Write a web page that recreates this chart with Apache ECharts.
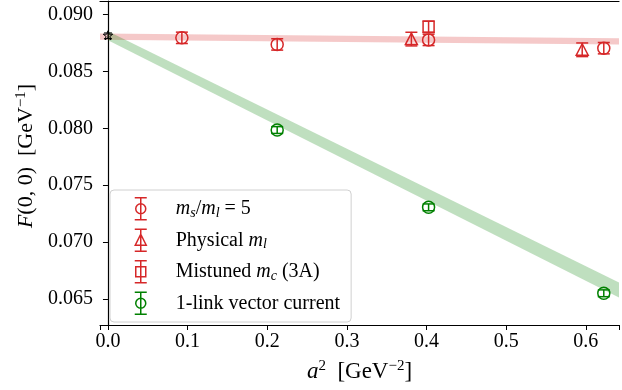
<!DOCTYPE html>
<html>
<head>
<meta charset="utf-8">
<script src="https://cdn.jsdelivr.net/npm/echarts@6/dist/echarts.min.js"></script>
<style>
    html, body { margin: 0; padding: 0; background: #fff; }
    #chart { width: 622px; height: 390px; }
</style>
</head>
<body>
<div id="chart"></div>
<script>
// values: a^2 [GeV^-2], F(0,0) [GeV^-1], error
const ratio5A2 = [0.0928, 0.2125, 0.4026, 0.6226];
const ratio5F = [0.08796, 0.08738, 0.08778, 0.08705];
const ratio5Err = [0.0005, 0.0005, 0.0005, 0.0005];

const physA2 = [0.381, 0.5955];
const physF = [0.08785, 0.08691];
const physErr = [0.0006, 0.0006];

const mistunedA2 = [0.4026];
const mistunedF = [0.08893];
const mistunedErr = [0.0005];

const linkA2 = [0.2125, 0.4026, 0.6226];
const linkF = [0.07985, 0.07305, 0.06549];
const linkErr = [0.0003, 0.0003, 0.0003];

// continuum value
const contA2 = [0];
const contF = [0.08814];
const contErr = [0.00025];

// fit bands: centre and half width at the ends
const redFitA2 = [-0.01, 0.65];
const redFitMid = [0.08807, 0.08764];
const redFitHalf = [0.00028, 0.00028];
const greenFitA2 = [0, 0.65];
const greenFitMid = [0.08814, 0.06549];
const greenFitHalf = [0.0004, 0.00066];

const xTicks = [0, 0.1, 0.2, 0.3, 0.4, 0.5, 0.6];
const yTicks = [0.065, 0.070, 0.075, 0.080, 0.085, 0.090];

const RED = '#d62728';
const GREEN = '#008000';
const FONT = 'Liberation Serif';
const CAP = 6;

const zip3 = (a, b, c) => a.map((v, i) => [v, b[i], c[i]]);

const isTick = (list, v) => list.some(t => Math.abs(t - v) < 1e-9);

// marker shapes drawn around a pixel point
const marker = (kind, p, style) => {
    const [cx, cy] = p;
    if (kind === 'circle') {
        return { type: 'circle', shape: { cx, cy, r: 6 }, style };
    }
    if (kind === 'triangle') {
        return { type: 'polygon', shape: { points: [[cx, cy - 6], [cx + 6, cy + 5.5], [cx - 6, cy + 5.5]] }, style };
    }
    if (kind === 'square') {
        return { type: 'rect', shape: { x: cx - 5.5, y: cy - 5.5, width: 11, height: 11 }, style };
    }
    // star
    let pts = [];
    for (let k = 0; k < 10; k++) {
        let r = k % 2 ? 2 : 5;
        let ang = -Math.PI / 2 + k * Math.PI / 5;
        pts.push([cx + r * Math.cos(ang), cy + r * Math.sin(ang)]);
    }
    return { type: 'polygon', shape: { points: pts }, style };
};

const errorBar = (kind, color, cap, width) => (params, api) => {
    let x = api.value(0), y = api.value(1), e = api.value(2);
    let c = api.coord([x, y]);
    let hi = api.coord([x, y + e]);
    let lo = api.coord([x, y - e]);
    let line = { stroke: color, lineWidth: width, fill: null };
    return {
        type: 'group',
        children: [
            { type: 'line', shape: { x1: c[0], y1: hi[1], x2: c[0], y2: lo[1] }, style: line },
            { type: 'line', shape: { x1: c[0] - cap, y1: hi[1], x2: c[0] + cap, y2: hi[1] }, style: line },
            { type: 'line', shape: { x1: c[0] - cap, y1: lo[1], x2: c[0] + cap, y2: lo[1] }, style: line },
            marker(kind, c, { stroke: color, lineWidth: width, fill: 'none' })
        ]
    };
};

// a filled band between two straight edges
const band = (fill, xs, mid, half) => (params, api) => {
    if (params.dataIndex !== 0) return null;
    let top = xs.map((x, i) => api.coord([x, mid[i] + half[i]]));
    let bot = xs.map((x, i) => api.coord([x, mid[i] - half[i]])).reverse();
    return { type: 'polygon', shape: { points: top.concat(bot) }, style: { fill } };
};

const errSeries = (name, kind, color, a2, f, err) => ({
    name,
    type: 'custom',
    renderItem: errorBar(kind, color, CAP, 1.5),
    itemStyle: { color },
    encode: { x: 0, y: 1 },
    data: zip3(a2, f, err),
    z: 5
});

const bandSeries = (name, fill, xs, mid, half) => ({
    name,
    type: 'custom',
    renderItem: band(fill, xs, mid, half),
    encode: { x: 0, y: 1 },
    data: xs.map((x, i) => [x, mid[i]]),
    silent: true,
    clip: true,
    z: 2
});

const ICONS = {
    circle: 'path://M0 0L12 0M6 0L6 22M0 22L12 22M1 11A5 5 0 1 0 11 11A5 5 0 1 0 1 11Z',
    triangle: 'path://M0 0L12 0M6 0L6 22M0 22L12 22M6 5L11.5 16L0.5 16Z',
    square: 'path://M0 0L12 0M6 0L6 22M0 22L12 22M1 6L11 6L11 16L1 16Z'
};

const legendItem = (name, icon, color) => ({
    name,
    icon: ICONS[icon],
    itemStyle: { color: 'rgba(0,0,0,0)', borderColor: color, borderWidth: 1.5 }
});

const LABELS = {
    ratio: '{m|m}{sub|s}/{m|m}{sub|l} = 5',
    phys: 'Physical {m|m}{sub|l}',
    mist: 'Mistuned {m|m}{sub|c} (3A)',
    link: '1-link vector current'
};

const chart = echarts.init(document.getElementById('chart'));

chart.setOption({
    animation: false,
    backgroundColor: '#fff',
    textStyle: { fontFamily: FONT, color: '#000' },
    grid: { left: 100, right: 0, top: 1, bottom: 65 },
    legend: {
        orient: 'vertical',
        left: 110,
        top: 190,
        padding: [7, 11, 7, 24],
        itemGap: 8,
        itemWidth: 12,
        itemHeight: 22,
        backgroundColor: '#fff',
        borderColor: '#d0d0d0',
        borderWidth: 1,
        borderRadius: 4,
        selectedMode: false,
        formatter: name => LABELS[name],
        textStyle: {
            fontFamily: FONT,
            fontSize: 20,
            color: '#000',
            lineHeight: 22,
            padding: [0, 0, 0, 24],
            rich: {
                m: { fontFamily: FONT, fontStyle: 'italic', fontSize: 20 },
                sub: { fontFamily: FONT, fontStyle: 'italic', fontSize: 14, padding: [9, 0, 0, 0] }
            }
        },
        data: [
            legendItem('ratio', 'circle', RED),
            legendItem('phys', 'triangle', RED),
            legendItem('mist', 'square', RED),
            legendItem('link', 'circle', GREEN)
        ]
    },
    xAxis: [{
        type: 'value',
        min: -0.01,
        max: 0.6417,
        splitNumber: 7,
        name: '{i|a}{sup|2}  [GeV{sup|−2}]',
        nameLocation: 'middle',
        nameGap: 34,
        nameTextStyle: {
            fontFamily: FONT, fontSize: 23, color: '#000',
            rich: {
                i: { fontFamily: FONT, fontStyle: 'italic', fontSize: 23 },
                sup: { fontFamily: FONT, fontSize: 15, padding: [0, 0, 11, 0] }
            }
        },
        axisLine: { lineStyle: { color: '#000', width: 1.2 } },
        axisTick: { length: 5, lineStyle: { color: '#000' } },
        axisLabel: {
            fontFamily: FONT, fontSize: 20, color: '#000', margin: 7,
            formatter: v => isTick(xTicks, v) ? v.toFixed(1) : ''
        },
        splitLine: { show: false }
    }, {
        type: 'value',
        position: 'top',
        min: -0.01,
        max: 0.6417,
        axisLine: { show: true, lineStyle: { color: '#000', width: 1.2 } },
        axisTick: { show: false },
        axisLabel: { show: false },
        splitLine: { show: false }
    }],
    yAxis: {
        type: 'value',
        min: 0.0627,
        max: 0.0912,
        splitNumber: 6,
        name: '{i|F}(0, 0)  [GeV{sup|−1}]',
        nameLocation: 'middle',
        nameRotate: 90,
        nameGap: 60,
        nameTextStyle: {
            fontFamily: FONT, fontSize: 22, color: '#000',
            padding: [0, 0, 0, 14],
            rich: {
                i: { fontFamily: FONT, fontStyle: 'italic', fontSize: 22 },
                sup: { fontFamily: FONT, fontSize: 15, padding: [0, 0, 11, 0] }
            }
        },
        axisLine: { show: true, lineStyle: { color: '#000', width: 1.2 } },
        axisTick: { show: true, length: 5, lineStyle: { color: '#000' } },
        axisLabel: {
            fontFamily: FONT, fontSize: 20, color: '#000', margin: 7,
            formatter: v => isTick(yTicks, v) ? v.toFixed(3) : ''
        },
        splitLine: { show: false }
    },
    series: [
        bandSeries('redFit', 'rgba(214,39,40,0.25)', redFitA2, redFitMid, redFitHalf),
        bandSeries('greenFit', 'rgba(0,128,0,0.25)', greenFitA2, greenFitMid, greenFitHalf),
        errSeries('ratio', 'circle', RED, ratio5A2, ratio5F, ratio5Err),
        errSeries('phys', 'triangle', RED, physA2, physF, physErr),
        errSeries('mist', 'square', RED, mistunedA2, mistunedF, mistunedErr),
        errSeries('link', 'circle', GREEN, linkA2, linkF, linkErr),
        {
            name: 'cont',
            type: 'custom',
            renderItem: errorBar('star', '#000', 4, 1),
            encode: { x: 0, y: 1 },
            data: zip3(contA2, contF, contErr),
            z: 6
        }
    ]
});
</script>
</body>
</html>
